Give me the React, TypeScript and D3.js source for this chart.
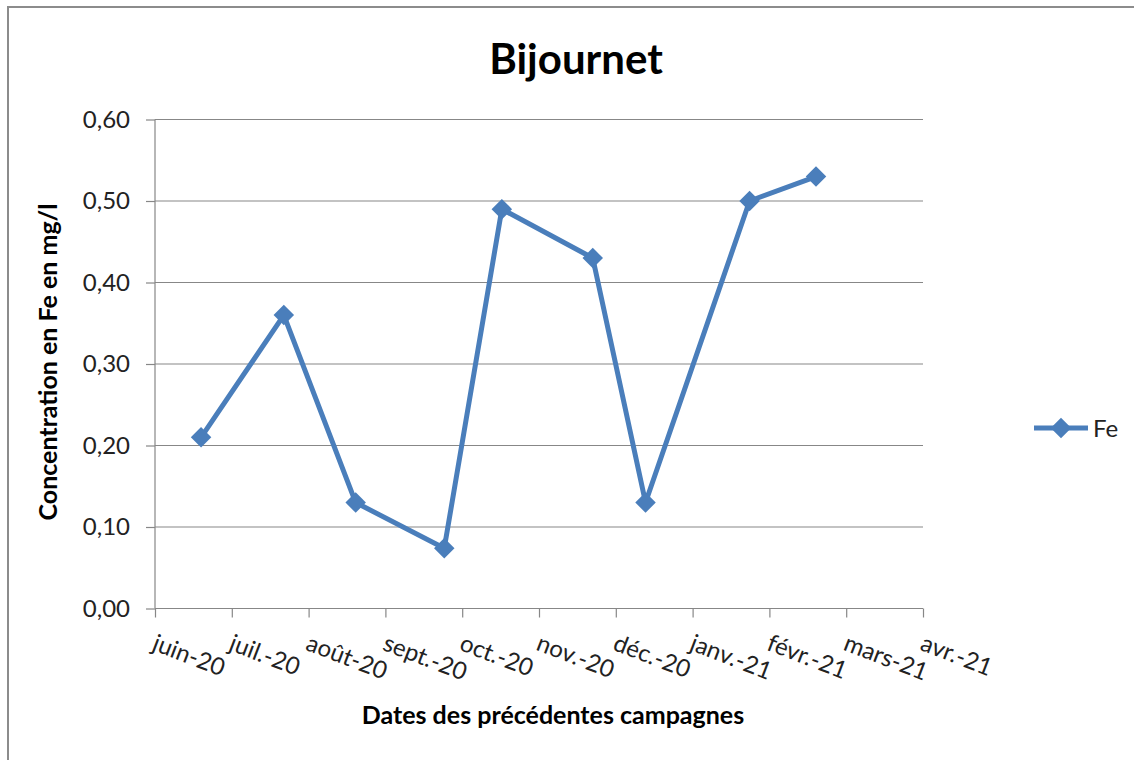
import React, { Component } from "react";
import * as d3 from "d3";

// month tick labels (equally spaced, like the excel date axis)
const monthLabels = [
  "juin-20", "juil.-20", "août-20", "sept.-20", "oct.-20", "nov.-20",
  "déc.-20", "janv.-21", "févr.-21", "mars-21", "avr.-21"
];
const firstMonth = new Date(2020, 5, 1);

// sampling dates and Fe values (mg/l)
const sampleDates = [
  "2020-06-19", "2020-07-22", "2020-08-20", "2020-09-24", "2020-10-17",
  "2020-11-22", "2020-12-13", "2021-01-24", "2021-02-18"
];
const feValues = [0.21, 0.36, 0.13, 0.074, 0.49, 0.43, 0.13, 0.5, 0.53];

const yTicks = [0, 0.1, 0.2, 0.3, 0.4, 0.5, 0.6];

const FONT = "Lato, 'Open Sans', sans-serif";
const BLUE = "#4a7ebb";
const GREY = "#878787";

// date -> month index with fraction of the month
const monthPos = (s: string) => {
  const d = d3.timeParse("%Y-%m-%d")(s) as Date;
  const start = d3.timeMonth.floor(d);
  const m = d3.timeMonth.count(firstMonth, start);
  const days = d3.timeDay.count(start, d3.timeMonth.offset(start, 1));
  return m + (d.getDate() - 1) / days;
};

class Chart extends Component {
  node: HTMLDivElement | null = null;

  componentDidMount() {
    this.createGraph();
  }

  createGraph() {
    const width = 1134, height = 760;
    const plot = { left: 155, right: 923, top: 119.5, bottom: 608.5 };

    d3.select(this.node).selectAll("*").remove();

    const svg = d3
      .select(this.node)
      .append("svg")
      .attr("width", width)
      .attr("height", height)
      .style("display", "block")
      .style("font-family", FONT);

    svg.append("rect").attr("width", width).attr("height", height).attr("fill", "#fff");
    // outer chart border (runs off the right/bottom of the picture)
    svg.append("rect")
      .attr("x", 8).attr("y", 7)
      .attr("width", width + 20).attr("height", height + 20)
      .attr("fill", "none").attr("stroke", "#8c8c8c").attr("stroke-width", 2);

    const xScale = d3.scaleLinear().domain([0, monthLabels.length - 1]).range([plot.left, plot.right]);
    const yScale = d3.scaleLinear().domain([0, 0.6]).range([plot.bottom, plot.top]);

    // gridlines
    svg.append("g")
      .selectAll("line")
      .data(yTicks.slice(1))
      .enter()
      .append("line")
      .attr("x1", plot.left).attr("x2", plot.right)
      .attr("y1", d => yScale(d)).attr("y2", d => yScale(d))
      .attr("stroke", GREY).attr("stroke-width", 1.2);

    // y axis
    const yAxis = svg.append("g")
      .attr("transform", `translate(${plot.left},0)`)
      .call(
        d3.axisLeft(yScale)
          .tickValues(yTicks)
          .tickSize(9)
          .tickPadding(16)
          .tickFormat(d => d3.format(".2f")(d as number).replace(".", ","))
      );
    yAxis.select(".domain").attr("stroke", GREY).attr("stroke-width", 1.2).attr("d", `M0,${plot.top}V${plot.bottom}`);
    yAxis.selectAll(".tick line").attr("stroke", GREY).attr("stroke-width", 1.2);
    yAxis.selectAll("text")
      .attr("font-family", FONT).attr("font-size", 24).attr("fill", "#222");

    // x axis
    const xAxis = svg.append("g")
      .attr("transform", `translate(0,${plot.bottom})`)
      .call(
        d3.axisBottom(xScale)
          .tickValues(d3.range(monthLabels.length))
          .tickSize(9)
          .tickFormat(() => "")
      );
    xAxis.select(".domain").attr("stroke", GREY).attr("stroke-width", 1.2).attr("d", `M${plot.left},0H${plot.right}`);
    xAxis.selectAll(".tick line").attr("stroke", GREY).attr("stroke-width", 1.2);

    svg.append("g")
      .selectAll("text")
      .data(monthLabels)
      .enter()
      .append("text")
      .attr("transform", (d, i) => `translate(${xScale(i) - 4},${plot.bottom + 41})rotate(21)`)
      .attr("font-size", 24)
      .attr("fill", "#222")
      .text(d => d);

    // the Fe series
    const data = sampleDates.map((s, i) => ({ x: monthPos(s), y: feValues[i] }));

    const line = d3.line<{ x: number; y: number }>()
      .x(d => xScale(d.x))
      .y(d => yScale(d.y));

    svg.append("path")
      .datum(data)
      .attr("d", line)
      .attr("fill", "none")
      .attr("stroke", BLUE)
      .attr("stroke-width", 5)
      .attr("stroke-linejoin", "round");

    // diamond markers = squares turned 45deg
    const marker = d3.symbol().type(d3.symbolSquare).size(210);

    svg.append("g")
      .selectAll("path")
      .data(data)
      .enter()
      .append("path")
      .attr("transform", d => `translate(${xScale(d.x)},${yScale(d.y)})rotate(45)`)
      .attr("d", marker)
      .attr("fill", BLUE);

    // legend
    const legend = svg.append("g").attr("transform", "translate(1034,428)");
    legend.append("line").attr("x1", 0).attr("x2", 54).attr("stroke", BLUE).attr("stroke-width", 5);
    legend.append("path").attr("transform", "translate(27,0)rotate(45)").attr("d", marker).attr("fill", BLUE);
    legend.append("text").attr("x", 59).attr("y", 9).attr("font-size", 24).attr("fill", "#222").text("Fe");

    // titles
    svg.append("text")
      .attr("x", 576).attr("y", 74)
      .attr("text-anchor", "middle")
      .attr("font-size", 42).attr("font-weight", "bold").attr("fill", "#000")
      .text("Bijournet");

    svg.append("text")
      .attr("x", 553).attr("y", 724)
      .attr("text-anchor", "middle")
      .attr("font-size", 25).attr("font-weight", "bold").attr("fill", "#000")
      .text("Dates des précédentes campagnes");

    svg.append("text")
      .attr("text-anchor", "middle")
      .attr("transform", "translate(57,362)rotate(-90)")
      .attr("font-size", 25).attr("font-weight", "bold").attr("fill", "#000")
      .text("Concentration en Fe en mg/l");
  }

  render() {
    return <div ref={node => { this.node = node; }} style={{ position: "absolute", left: 0, top: 0 }} />;
  }
}

export default function App() {
  return <Chart />;
}
